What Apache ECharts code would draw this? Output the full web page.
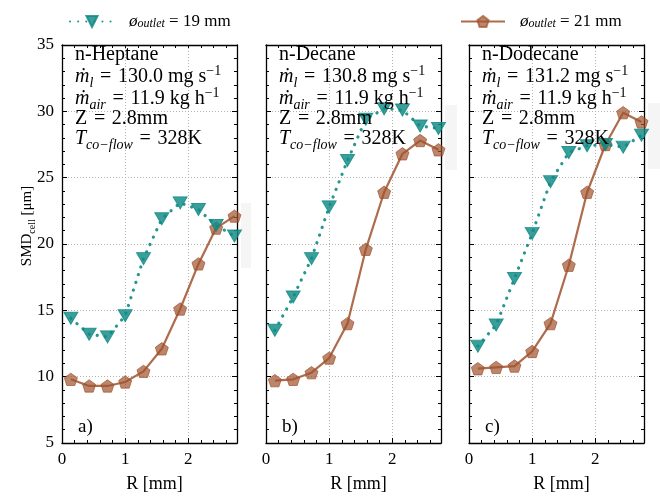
<!DOCTYPE html>
<html><head><meta charset="utf-8">
<script src="https://cdn.jsdelivr.net/npm/echarts@6/dist/echarts.min.js"></script>
<style>html,body{margin:0;padding:0;background:#fff}#c{width:660px;height:498px}</style>
</head><body><div id="c"></div>
<script>
// ---- data ----
const R = [0.14, 0.43, 0.72, 1.00, 1.29, 1.58, 1.87, 2.16, 2.44, 2.73];
const fuels = ['n-Heptane', 'n-Decane', 'n-Dodecane'];
const mdotL = ['130.0', '130.8', '131.2'];
const mdotAir = '11.9';
const zPos = '2.8';
const tCoflow = '328';
const panelTags = ['a)', 'b)', 'c)'];
const outletSizes = ['19', '21'];
const heptane19 = [14.4, 13.2, 13.0, 14.6, 18.9, 21.9, 23.1, 22.6, 21.4, 20.6];
const heptane21 = [9.8, 9.3, 9.3, 9.6, 10.4, 12.1, 15.1, 18.5, 21.2, 22.1];
const decane19 = [13.5, 16.0, 18.9, 22.8, 26.3, 29.4, 30.2, 30.1, 28.9, 28.7];
const decane21 = [9.7, 9.8, 10.3, 11.4, 14.0, 19.6, 23.9, 26.8, 27.8, 27.1];
const dodecane19 = [12.3, 13.9, 17.4, 20.8, 24.7, 26.9, 27.4, 27.5, 27.3, 28.2];
const dodecane21 = [10.6, 10.7, 10.8, 11.9, 14.0, 18.4, 23.9, 27.5, 29.9, 29.2];
const xTicks = [0, 1, 2];
const yTicks = [5, 10, 15, 20, 25, 30, 35];

const set19 = [heptane19, decane19, dodecane19];
const set21 = [heptane21, decane21, dodecane21];

// ---- style ----
const F = "'Liberation Serif','DejaVu Serif',serif";
const TEAL = '#0f8a84';
const BROWN = '#a0522d';
const gridLefts = [62, 266, 469];
const gridW = 175, gridTop = 45, gridH = 401;
const xMax = 2.77;
const PENT = 'path://M0,-1 L0.951,-0.309 L0.588,0.809 L-0.588,0.809 L-0.951,-0.309 Z';
const SP = '\u2004';

const grids = [], xAxes = [], yAxes = [], series = [], graphics = [];
const gridLine = {show: true, lineStyle: {color: '#aaaaaa', width: 0.9, type: [1, 2]}};

for (let g = 0; g < 3; g++) {
  grids.push({left: gridLefts[g], top: gridTop, width: gridW, height: gridH});
  xAxes.push({
    type: 'value', gridIndex: g, min: 0, max: xMax, interval: 1, position: 'bottom',
    axisLine: {show: true, onZero: false, lineStyle: {color: '#000', width: 1.3}},
    axisTick: {show: true, inside: true, length: 5, lineStyle: {color: '#000', width: 1}},
    minorTick: {show: false},
    axisLabel: {show: true, margin: 8, fontSize: 17, fontFamily: F, color: '#000',
      formatter: v => xTicks.includes(v) ? String(v) : ''},
    splitLine: gridLine,
    name: 'R [mm]', nameLocation: 'middle', nameGap: 32,
    nameTextStyle: {fontSize: 18, fontFamily: F, color: '#000', padding: [0, 0, 0, 10]}
  });
  xAxes.push({
    type: 'value', gridIndex: g, min: 0, max: xMax, interval: 0.2, position: 'bottom',
    axisLine: {show: false, onZero: false}, axisTick: {show: true, inside: true, length: 3, lineStyle: {color: '#000', width: 1}},
    axisLabel: {show: false}, splitLine: {show: false}
  });
  xAxes.push({
    type: 'value', gridIndex: g, min: 0, max: xMax, interval: 0.2, position: 'top',
    axisLine: {show: true, onZero: false, lineStyle: {color: '#000', width: 1.3}},
    axisTick: {show: true, inside: true, length: 3, lineStyle: {color: '#000', width: 1}},
    axisLabel: {show: false}, splitLine: {show: false}
  });
  for (const side of ['left', 'right']) {
    yAxes.push({
      type: 'value', gridIndex: g, min: yTicks[0], max: yTicks[yTicks.length - 1], interval: 5, position: side,
      axisLine: {show: true, onZero: false, lineStyle: {color: '#000', width: 1.3}},
      axisTick: {show: true, inside: true, length: 5, lineStyle: {color: '#000', width: 1}},
      minorTick: {show: true, splitNumber: 5, length: 3, lineStyle: {color: '#000', width: 1}},
      axisLabel: {show: g === 0 && side === 'left', margin: 8, fontSize: 17, fontFamily: F, color: '#000'},
      splitLine: side === 'left' ? gridLine : {show: false}
    });
  }
  series.push({
    name: outletSizes[0], type: 'line', xAxisIndex: 3 * g, yAxisIndex: 2 * g,
    data: R.map((x, i) => [x, set19[g][i]]),
    symbol: 'triangle', symbolRotate: 180, symbolSize: [14, 12],
    lineStyle: {color: TEAL, width: 3.2, type: [0.1, 8], cap: 'round', opacity: 0.9},
    itemStyle: {color: TEAL, opacity: 0.82, borderColor: TEAL, borderWidth: 1},
    z: 3
  });
  series.push({
    name: outletSizes[1], type: 'line', xAxisIndex: 3 * g, yAxisIndex: 2 * g,
    data: R.map((x, i) => [x, set21[g][i]]),
    symbol: PENT, symbolKeepAspect: true, symbolSize: 13,
    lineStyle: {color: BROWN, width: 2.2, opacity: 0.85},
    itemStyle: {color: BROWN, opacity: 0.7, borderColor: BROWN, borderWidth: 1},
    z: 2
  });

  const x0 = gridLefts[g] + 13;
  const rich = {
    it: {fontStyle: 'italic', fontSize: 20, fontFamily: F, fill: '#000'},
    sub: {fontStyle: 'italic', fontSize: 14, lineHeight: 13, verticalAlign: 'bottom', fontFamily: F, fill: '#000'},
    sup: {fontSize: 14, lineHeight: 13, verticalAlign: 'top', fontFamily: F, fill: '#000'}
  };
  const lines = [
    fuels[g],
    '{it|ṁ}{sub|l}' + SP + '=' + SP + mdotL[g] + ' mg s{sup|−1}',
    '{it|ṁ}{sub|air}' + SP + '=' + SP + mdotAir + ' kg h{sup|−1}',
    'Z' + SP + '=' + SP + zPos + 'mm',
    '{it|T}{sub|co−flow}' + SP + '=' + SP + tCoflow + 'K'
  ];
  const ys = [55, 77, 99, 119, 139];
  lines.forEach((t, k) => graphics.push({
    type: 'text', x: x0, y: ys[k], z: 100,
    style: {text: t, rich: rich, fontSize: 20, fontFamily: F, fill: '#000', lineHeight: 26,
      align: 'left', verticalAlign: 'middle'}
  }));
  graphics.push({
    type: 'text', x: gridLefts[g] + 16, y: 427, z: 100,
    style: {text: panelTags[g], fontSize: 19, fontFamily: F, fill: '#000', align: 'left', verticalAlign: 'middle'}
  });
}

graphics.push({type: 'rect', shape: {x: 241, y: 203, width: 10, height: 65}, style: {fill: '#f5f5f5'}, z: -1});
graphics.push({type: 'rect', shape: {x: 445, y: 105, width: 12, height: 65}, style: {fill: '#f5f5f5'}, z: -1});
graphics.push({type: 'rect', shape: {x: 648, y: 103, width: 12, height: 66}, style: {fill: '#f5f5f5'}, z: -1});

graphics.push({
  type: 'text', x: 27, y: 226, rotation: Math.PI / 2, z: 100,
  style: {text: 'SMD{sub|cell} [μm]', fontSize: 15, fontFamily: F, fill: '#000', lineHeight: 20,
    align: 'center', verticalAlign: 'middle',
    rich: {sub: {fontSize: 10, lineHeight: 10, verticalAlign: 'bottom', fontFamily: F, fill: '#000'}}}
});

const legendText = {
  fontSize: 17, fontFamily: F, color: '#000', padding: [0, 0, 0, 10],
  rich: {
    phi: {fontSize: 17, fontFamily: F, fontStyle: 'italic', color: '#000'},
    sub: {fontSize: 12, fontFamily: F, fontStyle: 'italic', color: '#000', lineHeight: 12, verticalAlign: 'bottom'}
  }
};
const legendFmt = n => '{phi|ø}{sub|outlet} = ' + n + ' mm';

const chart = echarts.init(document.getElementById('c'), null, {renderer: 'canvas'});
chart.setOption({
  animation: false,
  backgroundColor: '#fff',
  grid: grids, xAxis: xAxes, yAxis: yAxes, series: series, graphic: graphics,
  legend: [
    {data: [outletSizes[0]], left: 64, top: 8, itemWidth: 44, itemHeight: 14, formatter: legendFmt, textStyle: legendText},
    {data: [outletSizes[1]], left: 455, top: 8, itemWidth: 44, itemHeight: 14, formatter: legendFmt, textStyle: legendText}
  ]
});
</script></body></html>
